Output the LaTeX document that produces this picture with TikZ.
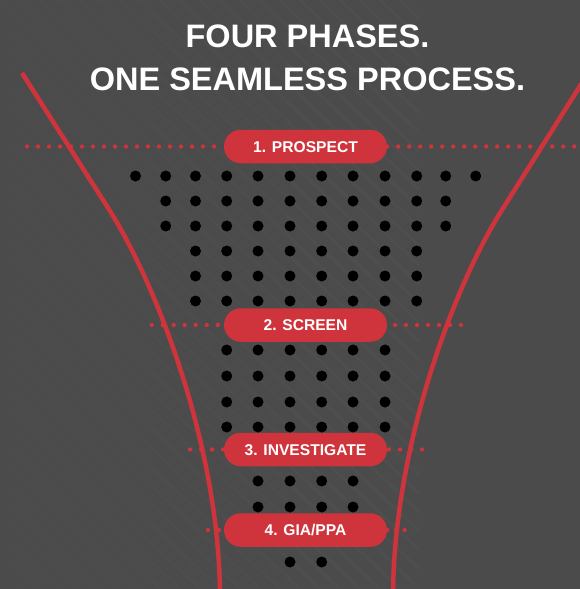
\documentclass[tikz,border=0pt]{standalone}
\usepackage{fontspec}
\setmainfont{Liberation Sans}
\usetikzlibrary{fadings}
\definecolor{bgc}{RGB}{75,75,75}
\definecolor{fred}{RGB}{207,52,60}
\pgfdeclarelayer{back}
\pgfsetlayers{back,main}
\begin{document}
\begin{tikzpicture}[x=1pt,y=-1pt,
  pill/.style={fill=fred, rounded corners=16.75pt, minimum width=163pt, minimum height=33.5pt,
    inner sep=0pt, text=white, font=\bfseries\fontsize{15.6}{18}\selectfont,
    text height=11.3pt, text depth=0pt},
  titletext/.style={text=white, font=\bfseries\fontsize{32.5}{38}\selectfont, inner sep=0pt, anchor=base},
  reddots/.style={fred, line width=4.3pt, line cap=round, dash pattern=on 0pt off 11pt},
  funnel/.style={fred, line width=4.5pt},
  bdot/.style={fill=black}]
\useasboundingbox (0,0) rectangle (580,589);

% titles
\node[titletext] (t1) at (307.5,47.5) {FOUR PHASES.};
\node[titletext] (t2) at (307.5,90) {ONE SEAMLESS PROCESS.};

% phase pills
\node[pill] (p1) at (305.5,146.5) {1. PROSPECT};
\node[pill] (p2) at (305.5,325) {2. SCREEN};
\node[pill] (p3) at (305.5,449.5) {3. INVESTIGATE};
\node[pill] (p4) at (305.5,530) {4. GIA/PPA};

% funnel points
\coordinate (lt) at (22,73);
\coordinate (lm) at (110,211);
\coordinate (lb) at (220,598);
\coordinate (rt) at (592,67);
\coordinate (rm) at (501.3,211);
\coordinate (rb) at (393,598);

\begin{pgfonlayer}{back}
  \fill[bgc] (0,0) rectangle (580,589);
  \begin{scope}
    \clip (0,0) rectangle (580,589);
    \foreach \a in {-640,-620,...,400}
      \draw[white, opacity=0.025, line width=3pt] (\a,0) -- ++(620,589);
    \fill[bgc, path fading=east] (-120,0) rectangle (420,589);
    \fill[bgc] (419,0) rectangle (580,589);
    % dotted guide lines
    \draw[reddots] (27,146.5) -- (p1.west);
    \draw[reddots] (p1.east) -- (595,146.5);
    \draw[reddots] (151.7,325) -- (p2.west);
    \draw[reddots] (461,325) -- (p2.east);
    \draw[reddots] (190,449.5) -- (p3.west);
    \draw[reddots] (422,449.5) -- (p3.east);
    \draw[reddots] (208,530) -- (p4.west);
    \draw[reddots, dash pattern=on 0pt off 8.7pt] (p4.east) -- (405,530);
    % funnel
    \draw[funnel] (lt) -- (lm) .. controls (157,286) and (220,448) .. (lb);
    \draw[funnel] (rt) -- (rm) .. controls (454,286) and (393,448) .. (rb);
  \end{scope}
\end{pgfonlayer}

% black dots
\foreach \x in {135.5,165.7,195.5,226.7,258,290,321.7,353,385,416.7,445.7,475.7}
  \fill[bdot] (\x,176) circle (5.5);
\foreach \y in {201,226}
  \foreach \x in {165.7,195.5,226.7,258,290,321.7,353,385,416.7,445.7}
    \fill[bdot] (\x,\y) circle (5.5);
\foreach \y in {251,276,301}
  \foreach \x in {195.5,226.7,258,290,321.7,353,385,416.7}
    \fill[bdot] (\x,\y) circle (5.5);
\foreach \y in {350,376,402,427}
  \foreach \x in {226.7,258,290,321.7,353,385}
    \fill[bdot] (\x,\y) circle (5.5);
\foreach \y in {481,507}
  \foreach \x in {258,290,321.7,353}
    \fill[bdot] (\x,\y) circle (5.5);
\foreach \x in {290,321.7}
  \fill[bdot] (\x,562) circle (5.5);
\end{tikzpicture}
\end{document}
